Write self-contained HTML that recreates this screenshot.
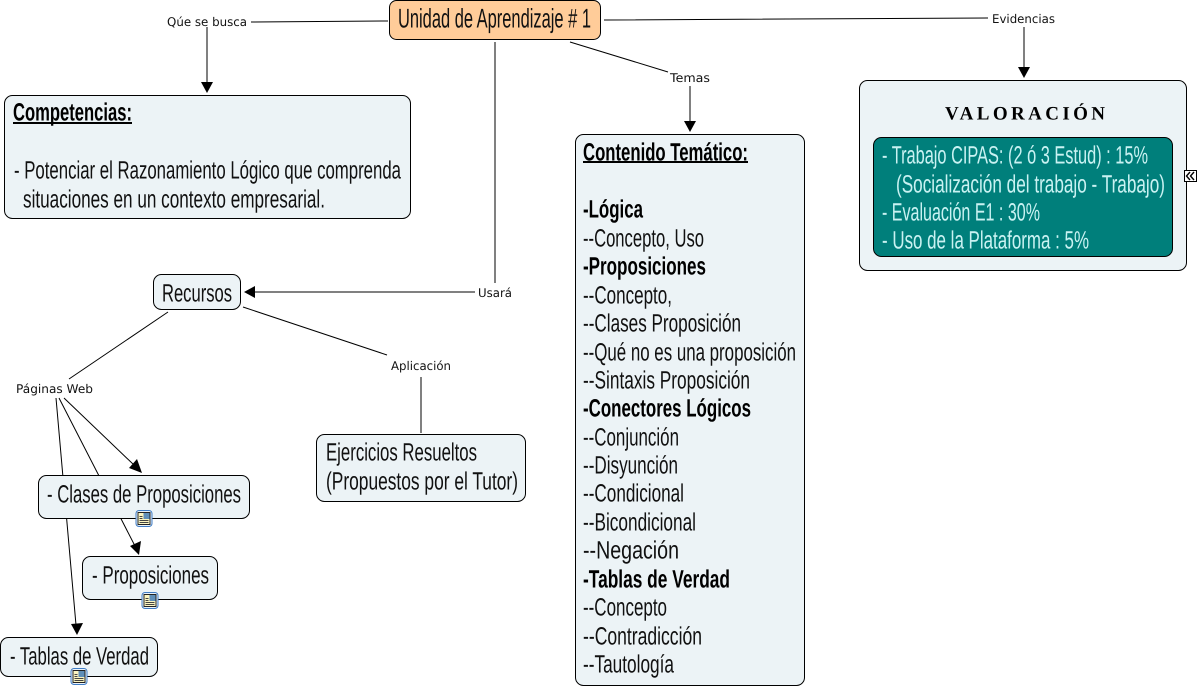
<!DOCTYPE html>
<html><head><meta charset="utf-8"><style>
html,body{margin:0;padding:0;background:#fff}
svg{display:block}
.n{fill:#ecf3f6;stroke:#000;stroke-width:1}
.l{stroke:#000;stroke-width:1;fill:none}
.a{fill:#000}
text{font-family:"Liberation Sans",sans-serif;fill:#111;transform:translateY(.5px)}
.t{font-size:25px}
.b{font-size:25px;font-weight:bold;fill:#000}
.s{font-family:"DejaVu Sans",sans-serif;font-size:12px;fill:#111;transform:translateY(1px)}
.w{fill:#c9f2f2;font-size:25px}
</style></head><body>
<svg width="1199" height="689" viewBox="0 0 1199 689" xmlns="http://www.w3.org/2000/svg" text-rendering="geometricPrecision">
<defs>
<g id="ic">
<rect x="0.5" y="0.5" width="16" height="16" rx="3" fill="#e8f1fa" stroke="#3f7cc4"/>
<rect x="2.5" y="2.5" width="12" height="12" fill="#fbf5c0" stroke="#222" stroke-width="1"/>
<path d="M4 6.5h3M4 8.5h3M4 10.5h9M4 12.5h9" stroke="#444" stroke-width="1"/>
<rect x="8" y="3" width="6" height="6" fill="#5f8fb8"/>
</g>
</defs>
<rect width="1199" height="689" fill="#fff"/>

<!-- connectors -->
<path class="l" d="M251 22L388 21M207 27V84M604 20L988 18M1024 27V68M495 42V283M475 292H254M570 42L668 72M690 86V122M168 312L69 379M243 307L387 355M421 377V433M64 398L134 465M59 398L135 546M56 398L76 625"/>
<path class="a" d="M207 93L201 82H213Z"/>
<path class="a" d="M1024 78L1018 67H1030Z"/>
<path class="a" d="M690 132L684 121H696Z"/>
<path class="a" d="M244 292L255 286V298Z"/>
<path class="a" d="M142 473L129 468L137 459Z"/>
<path class="a" d="M139 555L130 546L141 541Z"/>
<path class="a" d="M77 635L71 624L83 623Z"/>

<!-- main -->
<rect x="389.5" y="0.5" width="211" height="39" rx="7" fill="#ffcc99" stroke="#000"/>
<text x="398" y="27" font-size="27" textLength="193" lengthAdjust="spacingAndGlyphs">Unidad de Aprendizaje # 1</text>

<!-- competencias -->
<rect class="n" x="4.5" y="95.5" width="406" height="123" rx="8"/>
<text class="b" x="13" y="120" textLength="119" lengthAdjust="spacingAndGlyphs">Competencias:</text>
<rect x="13" y="122" width="119" height="2" fill="#000"/>
<text class="t" x="14" y="178" textLength="387" lengthAdjust="spacingAndGlyphs">- Potenciar el Razonamiento Lógico que comprenda</text>
<text class="t" x="23" y="207" textLength="302" lengthAdjust="spacingAndGlyphs">situaciones en un contexto empresarial.</text>

<!-- recursos -->
<rect class="n" x="153.5" y="274.5" width="87" height="35" rx="8"/>
<text class="t" x="162" y="301" textLength="70" lengthAdjust="spacingAndGlyphs">Recursos</text>

<!-- ejercicios -->
<rect class="n" x="316.5" y="434.5" width="209" height="67" rx="8"/>
<text class="t" x="326" y="460" textLength="151" lengthAdjust="spacingAndGlyphs">Ejercicios Resueltos</text>
<text class="t" x="326" y="489" textLength="192" lengthAdjust="spacingAndGlyphs">(Propuestos por el Tutor)</text>

<!-- clases -->
<rect class="n" x="38.5" y="475.5" width="211" height="43" rx="8"/>
<text class="t" x="47" y="502" textLength="194" lengthAdjust="spacingAndGlyphs">- Clases de Proposiciones</text>
<use href="#ic" x="135.5" y="510"/>

<!-- proposiciones -->
<rect class="n" x="82.5" y="556.5" width="135" height="43" rx="8"/>
<text class="t" x="92" y="583" textLength="117" lengthAdjust="spacingAndGlyphs">- Proposiciones</text>
<use href="#ic" x="141.5" y="592"/>

<!-- tablas -->
<rect class="n" x="0.5" y="637.5" width="157" height="39" rx="8"/>
<text class="t" x="10" y="664" textLength="139" lengthAdjust="spacingAndGlyphs">- Tablas de Verdad</text>
<use href="#ic" x="70.5" y="668"/>

<!-- contenido -->
<rect class="n" x="575.5" y="134.5" width="229" height="551" rx="8"/>
<text class="b" x="583" y="160" textLength="165" lengthAdjust="spacingAndGlyphs">Contenido Temático:</text>
<rect x="583" y="161" width="165" height="2" fill="#000"/>
<text class="b" x="583" y="217" textLength="60" lengthAdjust="spacingAndGlyphs">-Lógica</text>
<text class="t" x="583" y="246" textLength="121" lengthAdjust="spacingAndGlyphs">--Concepto, Uso</text>
<text class="b" x="583" y="274" textLength="123" lengthAdjust="spacingAndGlyphs">-Proposiciones</text>
<text class="t" x="583" y="303" textLength="89" lengthAdjust="spacingAndGlyphs">--Concepto,</text>
<text class="t" x="583" y="331" textLength="158" lengthAdjust="spacingAndGlyphs">--Clases Proposición</text>
<text class="t" x="583" y="360" textLength="213" lengthAdjust="spacingAndGlyphs">--Qué no es una proposición</text>
<text class="t" x="583" y="388" textLength="167" lengthAdjust="spacingAndGlyphs">--Sintaxis Proposición</text>
<text class="b" x="583" y="416" textLength="168" lengthAdjust="spacingAndGlyphs">-Conectores Lógicos</text>
<text class="t" x="583" y="445" textLength="96" lengthAdjust="spacingAndGlyphs">--Conjunción</text>
<text class="t" x="583" y="473" textLength="95" lengthAdjust="spacingAndGlyphs">--Disyunción</text>
<text class="t" x="583" y="501" textLength="101" lengthAdjust="spacingAndGlyphs">--Condicional</text>
<text class="t" x="583" y="530" textLength="113" lengthAdjust="spacingAndGlyphs">--Bicondicional</text>
<text class="t" x="583" y="558" textLength="96" lengthAdjust="spacingAndGlyphs">--Negación</text>
<text class="b" x="583" y="587" textLength="147" lengthAdjust="spacingAndGlyphs">-Tablas de Verdad</text>
<text class="t" x="583" y="615" textLength="84" lengthAdjust="spacingAndGlyphs">--Concepto</text>
<text class="t" x="583" y="644" textLength="119" lengthAdjust="spacingAndGlyphs">--Contradicción</text>
<text class="t" x="583" y="672" textLength="91" lengthAdjust="spacingAndGlyphs">--Tautología</text>

<!-- valoracion -->
<rect class="n" x="859.5" y="80.5" width="327" height="190" rx="8"/>
<text x="945" y="119" style="font-family:'Liberation Serif',serif;font-size:19px;font-weight:bold;fill:#000" textLength="160" lengthAdjust="spacing">VALORACIÓN</text>
<rect x="873.5" y="137.5" width="299" height="119" rx="8" fill="#007f7b" stroke="#000"/>
<text class="w" x="882" y="163" textLength="266" lengthAdjust="spacingAndGlyphs">- Trabajo CIPAS: (2 ó 3 Estud) : 15%</text>
<text class="w" x="896" y="192" textLength="269" lengthAdjust="spacingAndGlyphs">(Socialización del trabajo - Trabajo)</text>
<text class="w" x="882" y="220" textLength="158" lengthAdjust="spacingAndGlyphs">- Evaluación E1 : 30%</text>
<text class="w" x="882" y="248" textLength="207" lengthAdjust="spacingAndGlyphs">- Uso de la Plataforma : 5%</text>
<rect x="1184.5" y="170.5" width="12" height="11" fill="#fff" stroke="#000"/>
<path d="M1190 172L1186.5 176L1190 180M1194 172L1190.5 176L1194 180" fill="none" stroke="#000" stroke-width="1.4"/>

<!-- labels -->
<text class="s" x="167" y="25" textLength="80" lengthAdjust="spacingAndGlyphs">Qúe se busca</text>
<text class="s" x="992" y="22" textLength="63" lengthAdjust="spacingAndGlyphs">Evidencias</text>
<text class="s" x="670" y="81" textLength="40" lengthAdjust="spacingAndGlyphs">Temas</text>
<text class="s" x="478" y="296" textLength="34" lengthAdjust="spacingAndGlyphs">Usará</text>
<text class="s" x="391" y="369" textLength="60" lengthAdjust="spacingAndGlyphs">Aplicación</text>
<text class="s" x="16" y="392" textLength="77" lengthAdjust="spacingAndGlyphs">Páginas Web</text>
</svg>
</body></html>
